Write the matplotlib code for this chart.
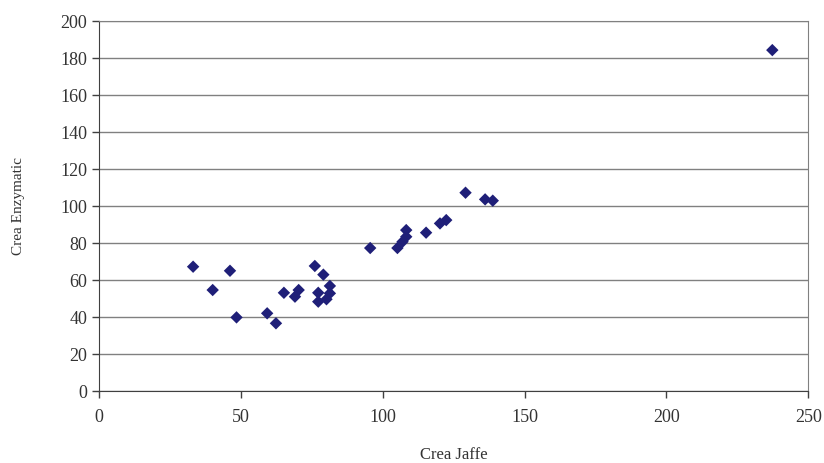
import matplotlib
matplotlib.use("Agg")
import matplotlib.pyplot as plt

# Crea Jaffe vs Crea Enzymatic
crea_jaffe = [33.2, 40.1, 46.2, 48.5, 59.3, 62.4, 65.2, 69.1, 70.4, 76.1,
              79.1, 77.3, 77.3, 80.2, 81.4, 81.4, 95.6, 105.2, 107.0, 108.3,
              108.3, 115.3, 120.2, 122.4, 129.2, 136.1, 138.8, 237.3]
crea_enzymatic = [67.2, 54.6, 65.0, 39.8, 42.0, 36.6, 53.1, 51.0, 54.6, 67.6,
                  62.9, 53.1, 48.3, 49.6, 52.8, 56.8, 77.3, 77.3, 80.7, 83.4,
                  87.0, 85.6, 90.6, 92.4, 107.2, 103.6, 102.9, 184.3]

x_ticks = [0, 50, 100, 150, 200, 250]
y_ticks = list(range(0, 201, 20))

plt.rcParams['font.family'] = ['Liberation Serif', 'DejaVu Serif']

fig = plt.figure(figsize=(8.24, 4.63), dpi=100)
ax = fig.add_axes([0.120, 0.1555, 0.861, 0.799])

ax.scatter(crea_jaffe, crea_enzymatic, marker='D', s=40, color='#1f1f78',
           edgecolors='none', zorder=3)

ax.set_xlim(0, 250)
ax.set_ylim(0, 200)
ax.set_xticks(x_ticks)
ax.set_yticks(y_ticks)
ax.yaxis.grid(True, color='#808080', linewidth=1.0)
ax.set_axisbelow(True)

for side in ['top', 'right']:
    ax.spines[side].set_color('#808080')
for side in ['left', 'bottom']:
    ax.spines[side].set_color('#404040')
ax.tick_params(direction='out', length=5, width=1, color='#404040',
               labelsize=13, labelcolor='#333333')
ax.tick_params(axis='x', pad=8)

# label sits near the bottom edge, as in the original
ax.set_xlabel('Crea Jaffe', fontsize=12, color='#333333')
ax.xaxis.set_label_coords(0.5, -0.152)
ax.set_ylabel('Crea Enzymatic', fontsize=11, color='#333333')
ax.yaxis.set_label_coords(-0.104, 0.5)

fig.savefig('out.png', dpi=100)
